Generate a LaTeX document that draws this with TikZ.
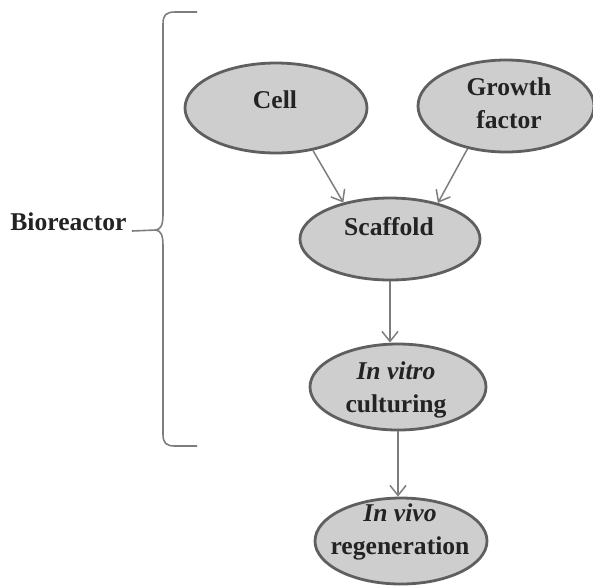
\documentclass[tikz,border=0pt]{standalone}
\usepackage{fontspec}
\setmainfont{Liberation Serif}[BoldFont={Liberation Serif Bold},BoldItalicFont={Liberation Serif Bold Italic}]
\usetikzlibrary{shapes.geometric,arrows.meta}
\definecolor{elfill}{RGB}{206,206,206}
\definecolor{eldraw}{RGB}{95,95,95}
\definecolor{linegray}{RGB}{125,125,125}
\definecolor{txt}{RGB}{35,35,35}
\begin{document}
\begin{tikzpicture}[x=0.5pt,y=-0.5pt,
  blob/.style={ellipse, draw=eldraw, fill=elfill, line width=1.4pt, inner sep=0pt},
  lbl/.style={font=\fontsize{12.8}{16.5}\selectfont\bfseries, text=txt, align=center, inner sep=0pt},
  conn/.style={draw=linegray, line width=0.75pt, -{Straight Barb[length=5pt,width=8pt,line width=0.75pt]}},
  brace/.style={draw=linegray, line width=0.8pt}]
\useasboundingbox (0,0) rectangle (593,585);
\node[blob, minimum width=91pt, minimum height=45pt] (cell) at (276,108) {};
\node[blob, minimum width=88pt, minimum height=46pt] (growth) at (506,106) {};
\node[blob, minimum width=90pt, minimum height=41pt] (scaf) at (390,239) {};
\node[blob, minimum width=88pt, minimum height=43pt] (vitro) at (398,387) {};
\node[blob, minimum width=86pt, minimum height=43pt] (vivo) at (401,541) {};
\node[lbl] (tcell) at (275,100) {Cell};
\node[lbl] (tgrowth) at (509,103) {Growth\\factor};
\node[lbl] (tscaf) at (389,227) {Scaffold};
\node[lbl] (tvitro) at (396,390) {\textit{In vitro}\\culturing};
\node[lbl] (tvivo) at (400,532) {\textit{In vivo}\\regeneration};
\node[lbl, anchor=base west] (bio) at (10,230) {Bioreactor};
\draw[conn] (cell.-49) -- (scaf.142);
\draw[conn] (growth.-132) -- (scaf.37);
\draw[conn] (scaf.south) -- (vitro.north -| scaf.south);
\draw[conn] (vitro.south) -- (vivo.north -| vitro.south);
\coordinate (tip) at (156,230);
\coordinate (btop) at (197,12);
\coordinate (bbot) at (197,446);
\draw[brace] (btop) -- (175,12) .. controls (166,12) and (163,15) .. (163,24)
  -- (163,214) .. controls (163,225) and (161,229) .. (tip)
  .. controls (161,231) and (163,235) .. (163,246)
  -- (163,434) .. controls (163,443) and (166,446) .. (175,446) -- (bbot);
\draw[brace] (bio.base east) ++(5,1) coordinate (bl) (bl) -- (tip);
\end{tikzpicture}
\end{document}
